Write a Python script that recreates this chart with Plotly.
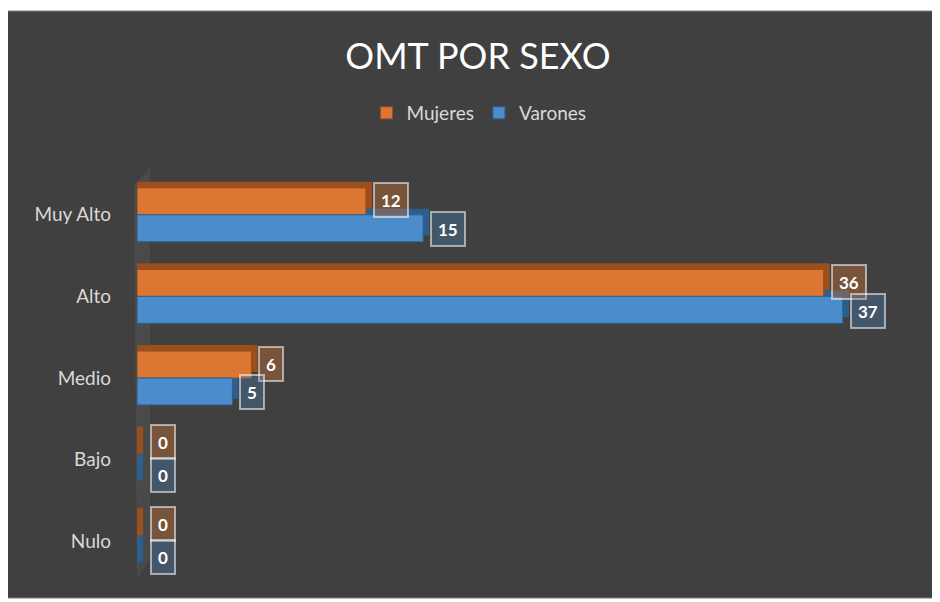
import plotly.graph_objects as go

categories = ["Muy Alto", "Alto", "Medio", "Bajo", "Nulo"]
mujeres = [12, 36, 6, 0, 0]
varones = [15, 37, 5, 0, 0]
series_names = ["Mujeres", "Varones"]

# page body has an 8px margin: work in page pixels, convert to figure pixels
OFF = 8
W, H = 940 - OFF, 602 - OFF
PL, PR, PT, PB = 137, 900, 174, 582          # plot area in page pixels
ML, MR, MT, MB = PL - OFF, W - (PR - OFF), PT - OFF, H - (PB - OFF)
PW, PH = W - ML - MR, H - MT - MB

def px_x(px):
    return (px - OFF - ML) / PW

def px_y(py):
    return (H - MB - (py - OFF)) / PH

FONT = "Lato, 'Open Sans', sans-serif"
ORANGE, ORANGE_D = "#dc7632", "#9a4f1c"
BLUE, BLUE_D = "#4b8dcb", "#2d5f8e"
w = 0.33      # bar thickness (category units)
dx = 0.32     # depth in value units
dy = 0.075    # depth in category units

ypos = list(range(len(categories)))

fig = go.Figure()
# depth (back) faces
for vals, off, col in [(mujeres, -w, ORANGE_D), (varones, 0.0, BLUE_D)]:
    fig.add_trace(go.Bar(
        y=ypos, x=[v + dx for v in vals], base=0, orientation="h",
        offset=off - dy, width=w, marker=dict(color=col, line=dict(width=0)),
        showlegend=False, hoverinfo="skip"))
# front faces
for name, vals, off, col, dcol in [(series_names[0], mujeres, -w, ORANGE, ORANGE_D),
                                   (series_names[1], varones, 0.0, BLUE, BLUE_D)]:
    fig.add_trace(go.Bar(
        y=ypos, x=vals, orientation="h", name=name,
        offset=off, width=w,
        marker=dict(color=col, line=dict(color=dcol, width=1))))

# labels
for vals, off, bg, ysh, ysh0 in [(mujeres, -w, "rgba(220,118,50,0.36)", 1, 4),
                                 (varones, 0.0, "rgba(75,141,203,0.30)", -1, -2)]:
    for i, v in enumerate(vals):
        fig.add_annotation(
            x=v, y=i + off + w / 2, xref="x", yref="y", text="<b>%d</b>" % v,
            showarrow=False, xanchor="left", xshift=7 + (6 if v == 0 else 0),
            yshift=ysh0 if v == 0 else ysh,
            height=20, valign="middle",
            font=dict(family=FONT, size=17, color="white"),
            bgcolor=bg, bordercolor="rgba(255,255,255,0.55)", borderwidth=2, borderpad=6)

shapes = [
    dict(type="rect", xref="paper", yref="paper", layer="below",
         x0=px_x(7), x1=px_x(936), y0=px_y(598), y1=px_y(11),
         fillcolor="#404040", line=dict(color="#7f7f7f", width=1)),
    dict(type="path", xref="paper", yref="paper", layer="below",
         path="M %f,%f L %f,%f L %f,%f L %f,%f Z" % (
             px_x(134), px_y(186), px_x(150), px_y(167),
             px_x(150), px_y(560), px_x(137), px_y(578)),
         fillcolor="#4a4a4a", line=dict(width=0)),
]

fig.update_layout(
    width=W, height=H,
    margin=dict(l=ML, r=MR, t=MT, b=MB),
    paper_bgcolor="white", plot_bgcolor="rgba(0,0,0,0)",
    barmode="overlay",
    title=dict(text="OMT POR SEXO", x=(478 - OFF) / W, xanchor="center",
               y=1 - (56 - OFF) / H, yanchor="middle",
               font=dict(family=FONT, size=36, color="white")),
    legend=dict(orientation="h", x=px_x(479), xanchor="center", y=px_y(113), yanchor="middle",
                font=dict(family=FONT, size=19, color="#d9d9d9"), bgcolor="rgba(0,0,0,0)",
                itemwidth=30, traceorder="normal"),
    xaxis=dict(range=[0, 40], showgrid=False, zeroline=False, showticklabels=False, showline=False),
    yaxis=dict(tickmode="array", tickvals=ypos, ticktext=categories, range=[4.5, -0.5],
               showgrid=False, zeroline=False, showline=False, ticks="",
               ticklabelstandoff=25,
               tickfont=dict(family=FONT, size=19, color="#d9d9d9")),
    shapes=shapes,
    showlegend=True,
)

fig.write_html("out.html")
